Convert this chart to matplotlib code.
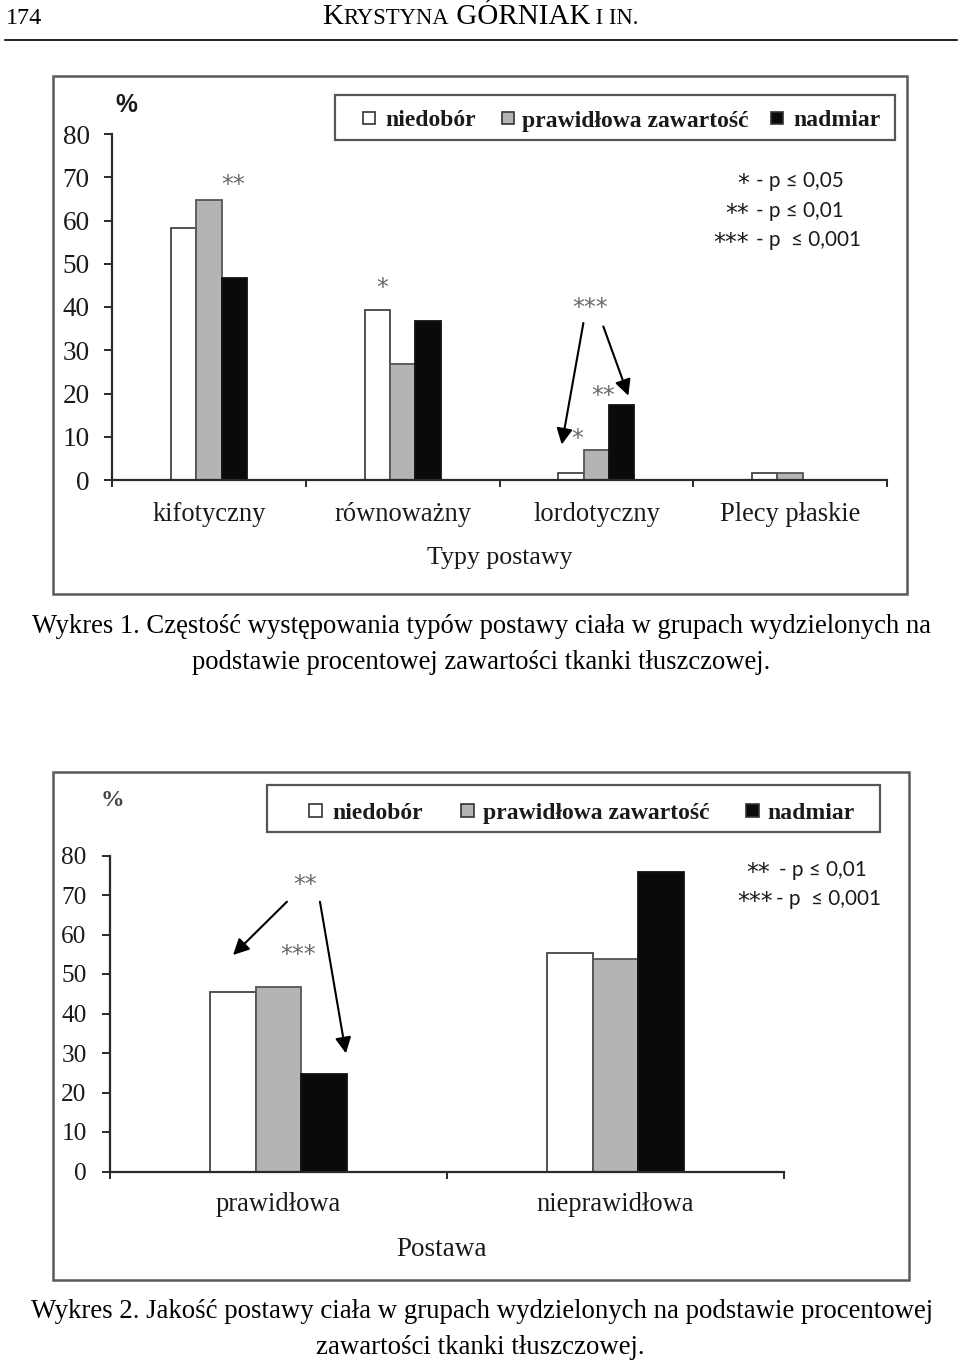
import numpy as np
import matplotlib
matplotlib.use('Agg')
import matplotlib.pyplot as plt
from matplotlib.patches import Rectangle
from matplotlib.lines import Line2D

# ---------------- data ----------------
series = ['niedobór', 'prawidłowa zawartość', 'nadmiar']

cats1 = ['kifotyczny', 'równoważny', 'lordotyczny', 'Plecy płaskie']
niedobor1 = [58.3, 39.2, 1.7, 1.6]
prawidlowa1 = [64.7, 26.9, 7.0, 1.6]
nadmiar1 = [46.6, 36.7, 17.3, 0.0]

cats2 = ['prawidłowa', 'nieprawidłowa']
niedobor2 = [45.4, 55.2]
prawidlowa2 = [46.7, 53.8]
nadmiar2 = [24.6, 75.8]

yticks = [0, 10, 20, 30, 40, 50, 60, 70, 80]
ytick_labels = [str(v) for v in yticks]

sig1_stars = ['*', '**', '***']
sig1_text = ['- p ≤ 0,05', '- p ≤ 0,01', '- p  ≤ 0,001']
sig2_stars = ['**', '***']
sig2_text = ['- p ≤ 0,01', '- p  ≤ 0,001']

# significance marks placed on chart (text, x, y) in data units
marks1 = [('**', 0.124, 68.3), ('*', 0.894, 44.5), ('***', 1.967, 39.8),
          ('**', 2.036, 19.5), ('*', 1.902, 9.4)]
arrows1 = [((1.933, 36.3), (1.821, 8.2)), ((2.036, 35.5), (2.165, 19.5))]
marks2 = [('**', 0.079, 72.6), ('***', 0.058, 54.7)]
arrows2 = [((0.025, 68.3), (-0.135, 54.8)), ((0.123, 68.3), (0.200, 29.9))]

header_page = '174'
header_parts = [('K', 1.0), ('RYSTYNA', 0.78), (' GÓRNIAK', 1.0), (' I IN.', 0.78)]
caption1 = ['Wykres 1. Częstość występowania typów postawy ciała w grupach wydzielonych na',
            'podstawie procentowej zawartości tkanki tłuszczowej.']
caption2 = ['Wykres 2. Jakość postawy ciała w grupach wydzielonych na podstawie procentowej',
            'zawartości tkanki tłuszczowej.']
xlabel1 = 'Typy postawy'
xlabel2 = 'Postawa'

# ---------------- style ----------------
SERIF = 'Liberation Serif'
SANS = ['Lato', 'DejaVu Sans']
FILLS = ['white', '#b4b4b4', '#0a0a0a']
EDGES = ['#444444', '#555555', '#111111']
AXC = '#2a2a2a'

W, H = 960, 1363
fig = plt.figure(figsize=(W / 100, H / 100), dpi=100)
fig.patch.set_facecolor('white')
renderer = fig.canvas.get_renderer()


def fx(x):
    return x / W


def fy(y):
    return 1 - y / H


def text_width(s, size, **kw):
    t = fig.text(0, 0, s, fontsize=size, **kw)
    w = t.get_window_extent(renderer).width
    t.remove()
    return w


def fit_size(s, width, **kw):
    return 20.0 * width / text_width(s, 20.0, **kw)


def axes_px(l, t, r, b):
    return fig.add_axes([l / W, 1 - b / H, (r - l) / W, (b - t) / H])


def frame(l, t, r, b, color='#5a5a5a', lw=1.8):
    fig.add_artist(Rectangle((fx(l), fy(b)), (r - l) / W, (b - t) / H,
                             transform=fig.transFigure, fill=False,
                             edgecolor=color, lw=lw))


def style_axes(ax, cats, tick_size, cat_size, ypad_pt, xpad_pt):
    n = len(cats)
    ax.set_xlim(-0.5, n - 0.5)
    ax.set_ylim(0, 80)
    ax.set_facecolor('none')
    for s in ('top', 'right'):
        ax.spines[s].set_visible(False)
    for s in ('left', 'bottom'):
        ax.spines[s].set_color(AXC)
        ax.spines[s].set_linewidth(1.6)
    ax.set_yticks(yticks)
    ax.set_yticklabels(ytick_labels, fontfamily=SERIF, fontsize=tick_size, color='#1a1a1a')
    ax.tick_params(axis='y', direction='out', length=6, width=1.4, color=AXC, pad=ypad_pt)
    ax.set_xticks(np.arange(n + 1) - 0.5)
    ax.set_xticklabels([])
    ax.set_xticks(np.arange(n), minor=True)
    ax.set_xticklabels(cats, minor=True, fontfamily=SERIF, fontsize=cat_size, color='#1a1a1a')
    ax.tick_params(axis='x', which='major', direction='out', length=5, width=1.4, color=AXC)
    ax.tick_params(axis='x', which='minor', length=0, pad=xpad_pt)


def draw_bars(ax, vals_list, width):
    x = np.arange(len(vals_list[0]))
    for i, vals in enumerate(vals_list):
        ax.bar(x + (i - 1) * width, vals, width, color=FILLS[i],
               edgecolor=EDGES[i], linewidth=1.3, zorder=2, label=series[i])


def draw_marks(ax, marks, arrows, size):
    for s, x, y in marks:
        ax.text(x, y, s, ha='center', va='center', fontsize=size,
                family='DejaVu Sans', color='#6a6a6a')
    for (x0, y0), (x1, y1) in arrows:
        ax.annotate('', xy=(x1, y1), xytext=(x0, y0),
                    arrowprops=dict(arrowstyle='-|>,head_length=0.8,head_width=0.4',
                                    mutation_scale=12, lw=1.5, color='black',
                                    shrinkA=0, shrinkB=0))


def legend_box(box, sq_x, txt_x, yc, baseline, size, sq):
    l, t, r, b = box
    frame(l, t, r, b, color='#555555', lw=1.6)
    for i in range(3):
        fig.add_artist(Rectangle((fx(sq_x[i] - sq / 2), fy(yc + sq / 2)), sq / W, sq / H,
                                 transform=fig.transFigure, facecolor=FILLS[i],
                                 edgecolor='#333333', lw=1.2))
        fig.text(fx(txt_x[i]), fy(baseline), series[i], fontsize=size,
                 family=SERIF, fontweight='bold', va='baseline', ha='left', color='#1a1a1a')


def sig_legend(stars, texts, star_right, dash_left, baselines, size, star_size):
    for st, tx, sr, dl, bl in zip(stars, texts, star_right, dash_left, baselines):
        fig.text(fx(sr), fy(bl + 4), st, fontsize=star_size, family='DejaVu Sans',
                 ha='right', va='baseline', color='#1a1a1a')
        fig.text(fx(dl), fy(bl), tx, fontsize=size, family=SANS, ha='left',
                 va='baseline', color='#1a1a1a')


# ---------------- header ----------------
s174 = fit_size(header_page, 36, family=SERIF)
fig.text(fx(6), fy(24), header_page, fontsize=s174, family=SERIF, va='baseline', ha='left')
base_w = sum(text_width(p, 20 * sc, family=SERIF) for p, sc in header_parts)
hsz = 20 * 315 / base_w
xcur = 322
for p, sc in header_parts:
    fig.text(fx(xcur), fy(24), p, fontsize=hsz * sc, family=SERIF, va='baseline', ha='left')
    xcur += text_width(p, hsz * sc, family=SERIF)
fig.add_artist(Line2D([fx(5), fx(957)], [fy(40), fy(40)], color='black', lw=1.2))

# ---------------- chart 1 ----------------
frame(53, 76, 907, 594)
ax1 = axes_px(112, 134, 887, 480)
tick1 = fit_size('80', 27, family=SERIF)
cat1 = fit_size(''.join(cats1), 517, family=SERIF)
xpad1 = (520 - 480 - 0.69 * cat1 * 100 / 72) * 0.72
style_axes(ax1, cats1, tick1, cat1, (106 - 92) * 0.72, xpad1)
draw_bars(ax1, [niedobor1, prawidlowa1, nadmiar1], 0.131)
draw_marks(ax1, marks1, arrows1, 17)

psz1 = fit_size('%', 22, family='Liberation Sans', fontweight='bold')
fig.text(fx(126), fy(105), '%', fontsize=psz1, family='Liberation Sans',
         fontweight='bold', ha='center', va='center', color='#1a1a1a')
xl1 = fit_size(xlabel1, 145, family=SERIF)
fig.text(fx(499.5), fy(564), xlabel1, fontsize=xl1, family=SERIF, ha='center',
         va='baseline', color='#1a1a1a')

leg_size = fit_size(series[1], 226, family=SERIF, fontweight='bold')
legend_box((335, 95, 895, 140), [369, 508, 777], [385, 522, 793], 118, 126.5, leg_size, 12)

sig_sz1 = fit_size(sig1_text[0], 88, family=SANS)
star_sz = fit_size('***', 35, family='DejaVu Sans')
sig_legend(sig1_stars, sig1_text, [749, 749, 749], [756, 756, 756], [187, 217, 246],
           sig_sz1, star_sz)

# ---------------- caption 1 ----------------
c1 = fit_size(caption1[0], 900, family=SERIF)
fig.text(fx(482), fy(633), caption1[0], fontsize=c1, family=SERIF, ha='center', va='baseline')
fig.text(fx(481), fy(669), caption1[1], fontsize=c1, family=SERIF, ha='center', va='baseline')

# ---------------- chart 2 ----------------
frame(53, 772, 909, 1280)
ax2 = axes_px(110, 855.5, 784, 1171.5)
tick2 = fit_size('80', 25, family=SERIF)
cat2 = fit_size(''.join(cats2), 283, family=SERIF)
xpad2 = (1210 - 1171.5 - 0.69 * cat2 * 100 / 72) * 0.72
style_axes(ax2, cats2, tick2, cat2, (103 - 88) * 0.72, xpad2)
draw_bars(ax2, [niedobor2, prawidlowa2, nadmiar2], 0.135)
draw_marks(ax2, marks2, arrows2, 17)

fig.text(fx(112.5), fy(800), '%', fontsize=17, family=SERIF,
         fontweight='bold', ha='center', va='center', color='#444444')
xl2 = fit_size(xlabel2, 90, family=SERIF)
fig.text(fx(442), fy(1256), xlabel2, fontsize=xl2, family=SERIF, ha='center',
         va='baseline', color='#1a1a1a')

legend_box((267, 785, 880, 832), [315, 467, 752], [332, 483, 767], 810, 819, leg_size, 13)

sig_sz2 = fit_size(sig2_text[0], 88, family=SANS)
sig_legend(sig2_stars, sig2_text, [770, 773], [779, 776], [876, 905], sig_sz2, star_sz)

# ---------------- caption 2 ----------------
c2 = fit_size(caption2[0], 900, family=SERIF)
fig.text(fx(482), fy(1318), caption2[0], fontsize=c2, family=SERIF, ha='center', va='baseline')
fig.text(fx(480), fy(1354), caption2[1], fontsize=c2, family=SERIF, ha='center', va='baseline')

fig.savefig('out.png', dpi=100, facecolor='white')
